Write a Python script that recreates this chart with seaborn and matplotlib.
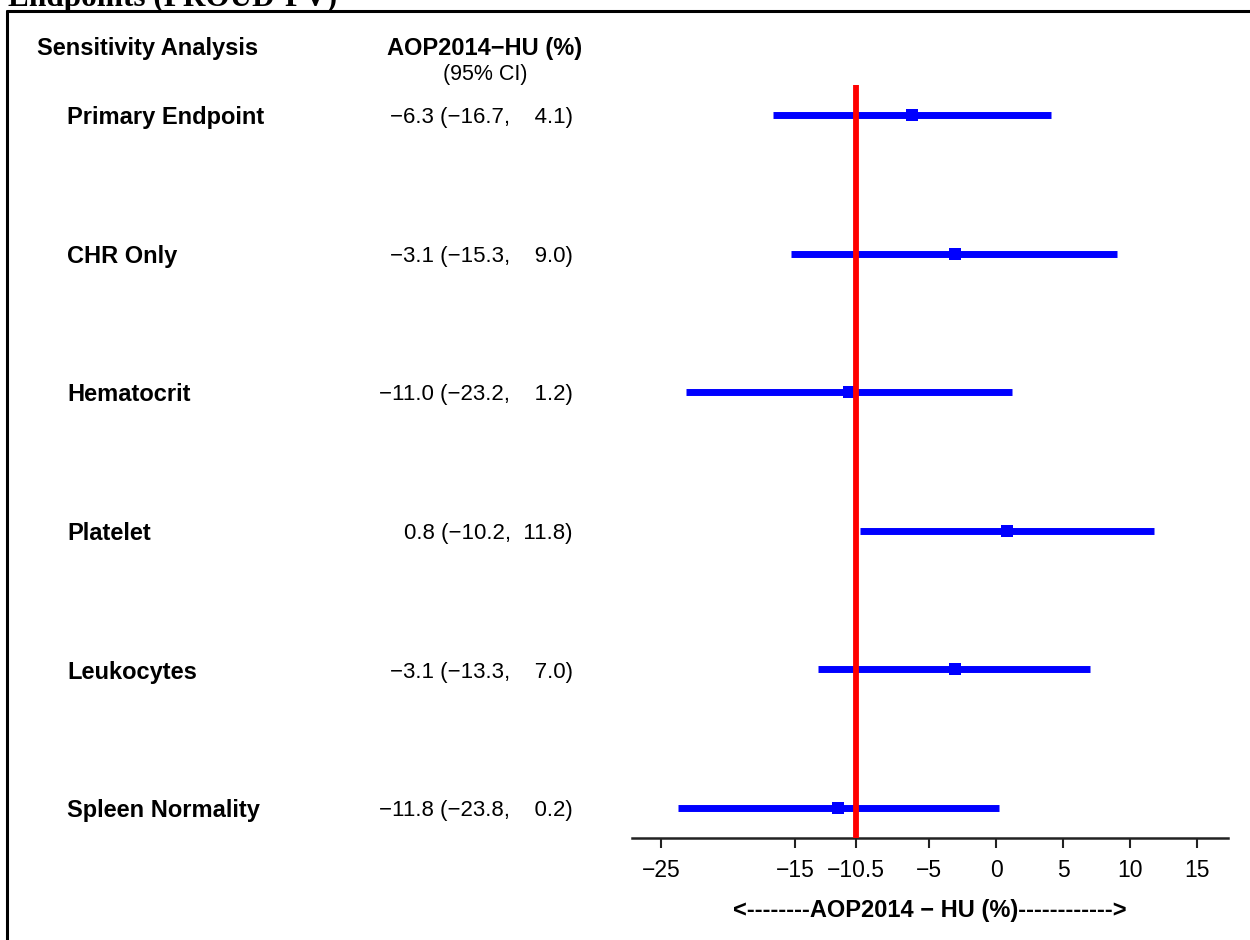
import matplotlib
matplotlib.use("Agg")
import matplotlib.pyplot as plt
import matplotlib.transforms as mtransforms
from matplotlib.lines import Line2D
import seaborn as sns
import pandas as pd

# Sensitivity analyses: point estimate and 95% CI of AOP2014 - HU (%)
analyses = ["Primary Endpoint", "CHR Only", "Hematocrit", "Platelet",
            "Leukocytes", "Spleen Normality"]
estimates = [-6.3, -3.1, -11.0, 0.8, -3.1, -11.8]
lower_ci = [-16.7, -15.3, -23.2, -10.2, -13.3, -23.8]
upper_ci = [4.1, 9.0, 1.2, 11.8, 7.0, 0.2]
tick_values = [-25, -15, -10.5, -5, 0, 5, 10, 15]
reference_value = -10.5

sns.set_theme(style="white")
plt.rcParams["font.family"] = ["Liberation Sans", "DejaVu Sans"]
plt.rcParams["text.color"] = "black"
plt.rcParams["axes.labelcolor"] = "black"

df = pd.DataFrame({"analysis": analyses, "estimate": estimates,
                   "lower": lower_ci, "upper": upper_ci})
df["row"] = range(len(df))

W, H = 1250, 940
fig = plt.figure(figsize=(12.5, 9.4), dpi=100)


def fx(px):
    return px / W


def fy(py):
    return 1 - py / H


ax = fig.add_axes([fx(632), fy(838), (1228 - 632) / W, (838 - 85) / H])

BLUE = "#0000ff"
ax.hlines(df["row"], df["lower"], df["upper"], color=BLUE, lw=5, zorder=2)
sns.scatterplot(data=df, x="estimate", y="row", marker="s", s=72,
                color=BLUE, linewidth=0, ax=ax, zorder=3, legend=False)
ax.axvline(reference_value, color="#ff0000", lw=4.2, zorder=4)

ax.set_xlim(-27.2, 17.3)
ax.set_ylim(5.216, -0.216)
ax.set_yticks([])
ax.set_ylabel("")
ax.set_xticks(tick_values)
ax.set_xticklabels([f"{v:g}".replace("-", "\u2212") for v in tick_values],
                   fontsize=16.5)
ax.tick_params(axis="x", bottom=True, direction="out", length=7, width=1.5,
               color="#222222", pad=8, labelcolor="black")
for side in ["left", "top", "right"]:
    ax.spines[side].set_visible(False)
ax.spines["bottom"].set_linewidth(1.8)
ax.spines["bottom"].set_color("#222222")
ax.set_xlabel("<--------AOP2014 \u2212 HU (%)------------>",
              fontsize=17, fontweight="bold", labelpad=12)

# Text columns: figure x, data y (nudged slightly so glyphs sit on the row)
tr = mtransforms.blended_transform_factory(fig.transFigure, ax.transData)
fig_text_kw = dict(transform=tr, va="center", clip_on=False)
nudge = 0.02

ax.text(fx(37), -0.498 + nudge, "Sensitivity Analysis", ha="left",
        fontweight="bold", fontsize=17, **fig_text_kw)
ax.text(fx(485), -0.498 + nudge, "AOP2014\u2212HU (%)", ha="center",
        fontweight="bold", fontsize=17, **fig_text_kw)
ax.text(fx(485), -0.31 + nudge, "(95% CI)", ha="center", fontsize=15.5,
        **fig_text_kw)

for r in df.itertuples():
    ax.text(fx(67), r.row + nudge, r.analysis, ha="left", fontweight="bold",
            fontsize=17, **fig_text_kw)
    hi = f"{r.upper:.1f}"
    pad = "\u2007" * (4 - len(hi))
    label = f"{r.estimate:.1f} ({r.lower:.1f},  {pad}{hi})"
    ax.text(fx(573), r.row + nudge, label.replace("-", "\u2212"), ha="right",
            fontsize=16, **fig_text_kw)

# Outer frame and heading
fig.add_artist(Line2D([fx(7), 1.0], [fy(10.5), fy(10.5)],
                      transform=fig.transFigure, color="black", lw=2.2))
fig.add_artist(Line2D([fx(7), fx(7)], [fy(10.5), 0.0],
                      transform=fig.transFigure, color="black", lw=2.2))
fig.text(fx(8), fy(6), "Endpoints (PROUD-PV)", ha="left", va="baseline",
         family="Liberation Serif", fontweight="bold", fontsize=22.5)

fig.savefig("out.png", dpi=100, facecolor="white")
